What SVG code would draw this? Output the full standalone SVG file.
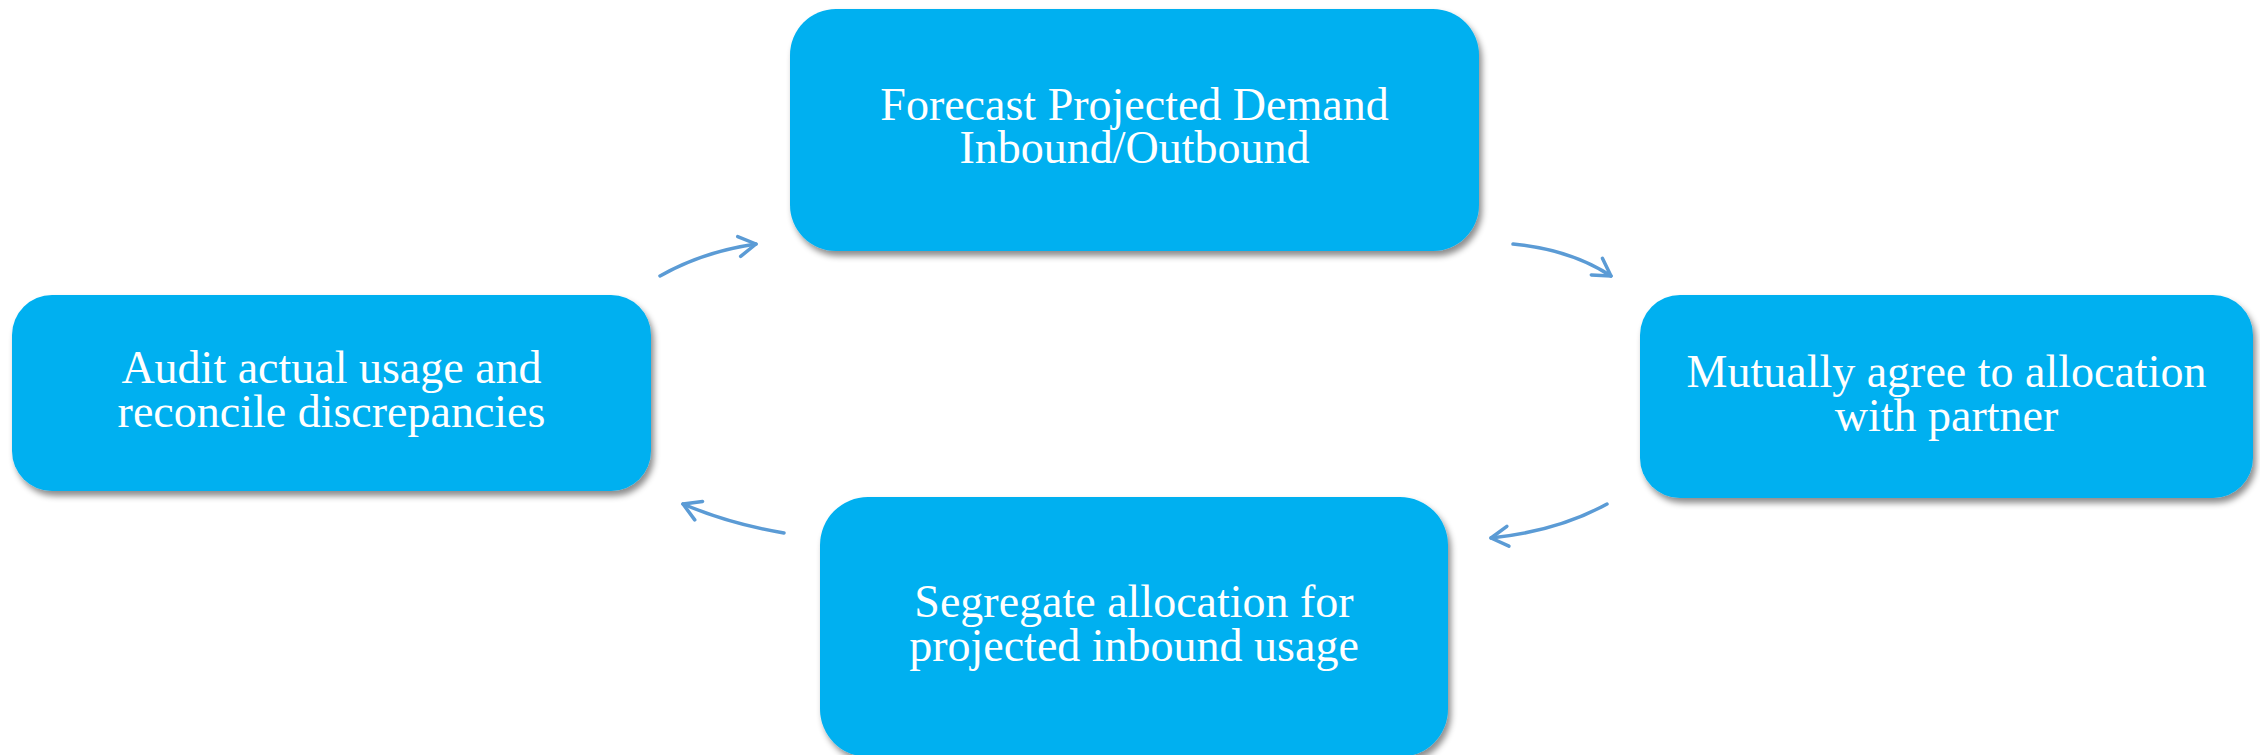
<svg xmlns="http://www.w3.org/2000/svg" width="2260" height="755" viewBox="0 0 2260 755">
<style>
.box{fill:#00B0F0;filter:url(#sh);}
.lbl{font-family:"Liberation Serif","Times New Roman",serif;font-size:46px;fill:#FFFFFF;text-anchor:middle;}
.con{fill:none;stroke:#5B9BD5;stroke-width:3.5;stroke-linecap:round;marker-end:url(#ah);}
</style>
<defs>
<filter id="sh" x="-5%" y="-5%" width="112%" height="120%">
<feDropShadow dx="3" dy="5" stdDeviation="3" flood-color="#000000" flood-opacity="0.45"/>
</filter>
<marker id="ah" markerUnits="userSpaceOnUse" viewBox="-22 -14 26 28" markerWidth="26" markerHeight="28" refX="0" refY="0" orient="auto">
<path d="M-17,-10 L0,0 L-17,10" fill="none" stroke="#5B9BD5" stroke-width="3.5" stroke-linecap="round" stroke-linejoin="round"/>
</marker>
</defs>
<rect width="2260" height="755" fill="#FFFFFF"/>
<g id="connectors">
<path class="con" d="M660,276 Q702,252 756,244"/>
<path class="con" d="M1513,244 Q1572,250 1611,276"/>
<path class="con" d="M1607,504 Q1558,531 1491,538"/>
<path class="con" d="M784,533 Q730,524 683,504"/>
</g>
<g id="node-forecast">
<rect class="box" x="790" y="9" width="689" height="242" rx="46" ry="46"/>
<text class="lbl"><tspan x="1134.5" y="120">Forecast Projected Demand</tspan><tspan x="1134.5" y="163">Inbound/Outbound</tspan></text>
</g>
<g id="node-agree">
<rect class="box" x="1640" y="295" width="613" height="203" rx="40" ry="40"/>
<text class="lbl"><tspan x="1946.5" y="387">Mutually agree to allocation</tspan><tspan x="1946.5" y="431">with partner</tspan></text>
</g>
<g id="node-segregate">
<rect class="box" x="820" y="497" width="628" height="260" rx="48" ry="48"/>
<text class="lbl"><tspan x="1134" y="617">Segregate allocation for</tspan><tspan x="1134" y="661">projected inbound usage</tspan></text>
</g>
<g id="node-audit">
<rect class="box" x="12" y="295" width="639" height="196" rx="40" ry="40"/>
<text class="lbl"><tspan x="331.5" y="383">Audit actual usage and</tspan><tspan x="331.5" y="427">reconcile discrepancies</tspan></text>
</g>
</svg>
